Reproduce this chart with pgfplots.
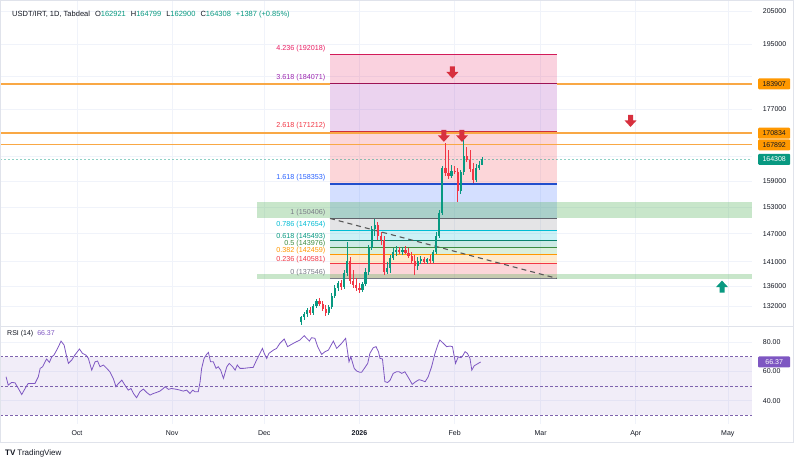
\documentclass[border=0pt]{standalone}
\usepackage{fontspec}
\setmainfont{Liberation Sans}
\usepackage{pgfplots}
\pgfplotsset{compat=1.18}
\definecolor{tvgreen}{HTML}{089981}
\definecolor{tvred}{HTML}{F23645}
\definecolor{tvtext}{HTML}{131722}
\definecolor{gridc}{HTML}{F0F3FA}
\definecolor{framec}{HTML}{E0E3EB}
\definecolor{fibgray}{HTML}{787B86}
\definecolor{fiborange}{HTML}{FF9800}
\definecolor{lvlorange}{HTML}{F9A845}
\definecolor{fibgreen}{HTML}{4CAF50}
\definecolor{fibteal}{HTML}{089981}
\definecolor{fibcyan}{HTML}{00BCD4}
\definecolor{fibblue}{HTML}{2962FF}
\definecolor{fibpurple}{HTML}{9C27B0}
\definecolor{fibpink}{HTML}{E91E63}
\definecolor{rsipurple}{HTML}{7E57C2}
\definecolor{arrowred}{HTML}{D7303E}
\newcommand\tvf{\fontsize{7pt}{8pt}\selectfont}
\newcommand\fibf{\fontsize{7.2pt}{8pt}\selectfont}
\pgfdeclareplotmark{tvdown}{%
 \pgfpathmoveto{\pgfqpoint{-2.5pt}{6pt}}\pgfpathlineto{\pgfqpoint{2.5pt}{6pt}}%
 \pgfpathlineto{\pgfqpoint{2.5pt}{0.5pt}}\pgfpathlineto{\pgfqpoint{6pt}{0.5pt}}%
 \pgfpathlineto{\pgfqpoint{0pt}{-6pt}}\pgfpathlineto{\pgfqpoint{-6pt}{0.5pt}}%
 \pgfpathlineto{\pgfqpoint{-2.5pt}{0.5pt}}\pgfpathclose\pgfusepathqfill}
\pgfdeclareplotmark{tvup}{%
 \pgfpathmoveto{\pgfqpoint{-2.5pt}{-6pt}}\pgfpathlineto{\pgfqpoint{2.5pt}{-6pt}}%
 \pgfpathlineto{\pgfqpoint{2.5pt}{-0.5pt}}\pgfpathlineto{\pgfqpoint{6pt}{-0.5pt}}%
 \pgfpathlineto{\pgfqpoint{0pt}{6pt}}\pgfpathlineto{\pgfqpoint{-6pt}{-0.5pt}}%
 \pgfpathlineto{\pgfqpoint{-2.5pt}{-0.5pt}}\pgfpathclose\pgfusepathqfill}
\begin{document}
\begin{tikzpicture}
\path[use as bounding box, fill=white] (0pt,0pt) rectangle (800pt,465pt);
% main price pane
\begin{axis}[at={(0pt,140pt)}, anchor=south west, scale only axis,
 width=752pt, height=324pt,
 xmin=-25.08, xmax=219.87, ymode=log, ymin=128309, ymax=208098,
 axis line style={draw=none}, tick style={draw=none},
 xtick={0,31,61,92,123,151,182,212}, xticklabels={},
 ytick={132000,136000,141000,147000,153000,159000,165000,171000,177000,186000,195000,205000},
 yticklabels={132000,136000,141000,147000,153000,159000,,,177000,,195000,205000},
 yticklabel pos=right,
 yticklabel style={anchor=west, inner sep=0pt, xshift=10.7pt, font=\tvf, text=tvtext},
 grid=major, major grid style={draw=gridc, line width=0.6pt},
 unbounded coords=jump, clip=true]
% fib bands
\addplot[draw=none, fill=tvred, fill opacity=0.2] coordinates {(82.41,137546)(156.25,137546)(156.25,140581)(82.41,140581)} -- cycle;
\addplot[draw=none, fill=fiborange, fill opacity=0.2] coordinates {(82.41,140581)(156.25,140581)(156.25,142459)(82.41,142459)} -- cycle;
\addplot[draw=none, fill=fibgreen, fill opacity=0.2] coordinates {(82.41,142459)(156.25,142459)(156.25,143976)(82.41,143976)} -- cycle;
\addplot[draw=none, fill=fibteal, fill opacity=0.2] coordinates {(82.41,143976)(156.25,143976)(156.25,145493)(82.41,145493)} -- cycle;
\addplot[draw=none, fill=fibcyan, fill opacity=0.2] coordinates {(82.41,145493)(156.25,145493)(156.25,147654)(82.41,147654)} -- cycle;
\addplot[draw=none, fill=fibgray, fill opacity=0.2] coordinates {(82.41,147654)(156.25,147654)(156.25,150406)(82.41,150406)} -- cycle;
\addplot[draw=none, fill=fibblue, fill opacity=0.2] coordinates {(82.41,150406)(156.25,150406)(156.25,158353)(82.41,158353)} -- cycle;
\addplot[draw=none, fill=tvred, fill opacity=0.2] coordinates {(82.41,158353)(156.25,158353)(156.25,171212)(82.41,171212)} -- cycle;
\addplot[draw=none, fill=fibpurple, fill opacity=0.2] coordinates {(82.41,171212)(156.25,171212)(156.25,184071)(82.41,184071)} -- cycle;
\addplot[draw=none, fill=fibpink, fill opacity=0.2] coordinates {(82.41,184071)(156.25,184071)(156.25,192018)(82.41,192018)} -- cycle;
% green zones
\addplot[draw=none, fill=fibgreen, fill opacity=0.3] coordinates {(58.6,150500)(219.87,150500)(219.87,154160)(58.6,154160)} -- cycle;
\addplot[draw=none, fill=fibgreen, fill opacity=0.3] coordinates {(58.6,137430)(219.87,137430)(219.87,138460)(58.6,138460)} -- cycle;
% fib lines
\addplot[fibgray, line width=1.2pt] coordinates {(82.41,137546)(156.25,137546)};
\addplot[tvred, line width=1.2pt] coordinates {(82.41,140581)(156.25,140581)};
\addplot[fiborange, line width=1.2pt] coordinates {(82.41,142459)(156.25,142459)};
\addplot[fibgreen!80!black, line width=1.2pt] coordinates {(82.41,143976)(156.25,143976)};
\addplot[fibteal!85!black, line width=1.2pt] coordinates {(82.41,145493)(156.25,145493)};
\addplot[fibcyan, line width=1.2pt] coordinates {(82.41,147654)(156.25,147654)};
\addplot[fibgray!80!black, line width=1.2pt] coordinates {(82.41,150406)(156.25,150406)};
\addplot[fibblue!80!black, line width=1.2pt] coordinates {(82.41,158353)(156.25,158353)};
\addplot[tvred!85!black, line width=1.2pt] coordinates {(82.41,171212)(156.25,171212)};
\addplot[fibpurple!60!red!80!black, line width=1.2pt] coordinates {(82.41,184071)(156.25,184071)};
\addplot[fibpink!90!black, line width=1.2pt] coordinates {(82.41,192018)(156.25,192018)};
% horizontal levels
\addplot[lvlorange, line width=1.6pt] coordinates {(-25.08,183907)(82.41,183907)};
\addplot[lvlorange, line width=1.6pt] coordinates {(156.25,183907)(219.87,183907)};
\addplot[lvlorange, line width=1.4pt] coordinates {(-25.08,170834)(219.87,170834)};
\addplot[lvlorange, line width=1.4pt] coordinates {(-25.08,167892)(219.87,167892)};
\addplot[tvgreen, opacity=0.45, line width=0.7pt, dash pattern=on 2pt off 2pt] coordinates {(-25.08,164308)(219.87,164308)};
% fib trend line
\addplot[black!65, line width=1.1pt, dash pattern=on 5pt off 4pt] coordinates {(82.41,150406)(156.25,137546)};
% candle wicks (green)
\addplot[tvgreen, line width=0.8pt] coordinates {
(73,128118)(73,130045)(73,nan) (74,129270)(74,130823)(74,nan) (75,129850)(75,131606)(75,nan)
(77,130239)(77,132395)(77,nan) (78,131606)(78,133386)(78,nan) (82,130239)(82,132197)(82,nan)
(83,131410)(83,134586)(83,nan) (84,133585)(84,136202)(84,nan) (85,134988)(85,137017)(85,nan)
(87,135391)(87,139284)(87,nan) (88,138043)(88,145226)(88,nan) (93,134787)(93,136813)(93,nan)
(94,135999)(94,139700)(94,nan) (95,138249)(95,144578)(95,nan) (96,143503)(96,148733)(96,nan)
(97,146531)(97,150294)(97,nan) (101,138456)(101,140956)(101,nan) (102,138662)(102,142437)(102,nan)
(103,141378)(103,143932)(103,nan) (104,142224)(104,144362)(104,nan) (106,142437)(106,144147)(106,nan)
(111,139284)(111,142012)(111,nan) (112,140536)(112,142224)(112,nan) (114,140536)(114,141800)(114,nan)
(116,140746)(116,143503)(116,nan) (117,142649)(117,147408)(117,nan) (118,146095)(118,152326)(118,nan)
(119,151194)(119,162676)(119,nan) (122,159789)(122,162919)(122,nan) (125,156015)(125,161708)(125,nan)
(126,160506)(126,169866)(126,nan) (130,158838)(130,163162)(130,nan) (131,161708)(131,163894)(131,nan)
(132,162900)(132,164799)(132,nan)};
% candle bodies (green)
\addplot[tvgreen, line width=2.2pt] coordinates {
(73,128885)(73,129850)(73,nan) (74,129850)(74,130433)(74,nan) (75,130433)(75,131214)(75,nan)
(77,130628)(77,132000)(77,nan) (78,132000)(78,132989)(78,nan) (82,130628)(82,131803)(82,nan)
(83,131803)(83,133985)(83,nan) (84,133985)(84,135594)(84,nan) (85,135594)(85,136609)(85,nan)
(87,135796)(87,138662)(87,nan) (88,138662)(88,141167)(88,nan) (93,135190)(93,136405)(93,nan)
(94,136405)(94,138869)(94,nan) (95,138869)(95,143932)(95,nan) (96,143932)(96,148069)(96,nan)
(97,148069)(97,148955)(97,nan) (101,138869)(101,139700)(101,nan) (102,139700)(102,141800)(102,nan)
(103,141800)(103,143076)(103,nan) (104,143076)(104,143503)(104,nan) (106,143076)(106,143503)(106,nan)
(111,140118)(111,141167)(111,nan) (112,141167)(112,141589)(112,nan) (114,140956)(114,141589)(114,nan)
(116,141167)(116,143076)(116,nan) (117,143076)(117,146531)(117,nan) (118,146531)(118,151646)(118,nan)
(119,151646)(119,162191)(119,nan) (122,160267)(122,161467)(122,nan) (125,156715)(125,161226)(125,nan)
(126,161226)(126,165121)(126,nan) (130,159313)(130,162191)(130,nan) (131,162191)(131,162919)(131,nan)
(132,162921)(132,164308)(132,nan)};
% candle wicks (red)
\addplot[tvred, line width=0.8pt] coordinates {
(76,130239)(76,131803)(76,nan) (79,132000)(79,133585)(79,nan) (80,131019)(80,132989)(80,nan)
(81,130045)(81,132197)(81,nan) (86,135190)(86,137222)(86,nan) (89,136405)(89,142012)(89,nan)
(90,135594)(90,139284)(90,nan) (91,134988)(91,137632)(91,nan) (92,134586)(92,136609)(92,nan)
(98,145660)(98,149623)(98,nan) (99,144578)(99,147408)(99,nan) (100,138249)(100,146531)(100,nan)
(105,142649)(105,144147)(105,nan) (107,142649)(107,144362)(107,nan) (108,141800)(108,143932)(108,nan)
(109,140536)(109,143076)(109,nan) (110,138249)(110,142437)(110,nan) (113,140536)(113,142012)(113,nan)
(115,140746)(115,142437)(115,nan) (120,160267)(120,168353)(120,nan) (121,159551)(121,166605)(121,nan)
(123,160746)(123,162676)(123,nan) (124,154160)(124,162191)(124,nan) (127,163650)(127,167352)(127,nan)
(128,161226)(128,166605)(128,nan) (129,158601)(129,163406)(129,nan)};
% candle bodies (red)
\addplot[tvred, line width=2.2pt] coordinates {
(76,131214)(76,130628)(76,nan) (79,132989)(79,132395)(79,nan) (80,132395)(80,131410)(80,nan)
(81,131410)(81,130628)(81,nan) (86,136609)(86,135796)(86,nan) (89,141167)(89,137017)(89,nan)
(90,137017)(90,136202)(90,nan) (91,136202)(91,135594)(91,nan) (92,135594)(92,135190)(92,nan)
(98,148955)(98,146531)(98,nan) (99,146531)(99,145660)(99,nan) (100,145660)(100,138869)(100,nan)
(105,143503)(105,143076)(105,nan) (107,143503)(107,142862)(107,nan) (108,142862)(108,142224)(108,nan)
(109,142224)(109,141167)(109,nan) (110,141167)(110,140118)(110,nan) (113,141589)(113,140956)(113,nan)
(115,141589)(115,141167)(115,nan) (120,162191)(120,160986)(120,nan) (121,160986)(121,160267)(121,nan)
(123,161467)(123,161226)(123,nan) (124,161226)(124,156715)(124,nan) (127,165121)(127,164139)(127,nan)
(128,164139)(128,161949)(128,nan) (129,161949)(129,159313)(129,nan)};
% arrows
\addplot[only marks, mark=tvdown, color=arrowred] coordinates {(122.3,187030)(119.5,170127)(125.4,170127)(180.3,173978)};
\addplot[only marks, mark=tvup, color=tvgreen] coordinates {(210.1,135857)};
% fib labels
\node[anchor=base east, yshift=4pt, inner sep=0pt, font=\fibf, text=fibpink] at (axis cs:80.94,192018) {4.236 (192018)};
\node[anchor=base east, yshift=4pt, inner sep=0pt, font=\fibf, text=fibpurple] at (axis cs:80.94,184071) {3.618 (184071)};
\node[anchor=base east, yshift=4pt, inner sep=0pt, font=\fibf, text=tvred] at (axis cs:80.94,171212) {2.618 (171212)};
\node[anchor=base east, yshift=4pt, inner sep=0pt, font=\fibf, text=fibblue] at (axis cs:80.94,158353) {1.618 (158353)};
\node[anchor=base east, yshift=4pt, inner sep=0pt, font=\fibf, text=fibgray] at (axis cs:80.94,150406) {1 (150406)};
\node[anchor=base east, yshift=4pt, inner sep=0pt, font=\fibf, text=fibcyan] at (axis cs:80.94,147654) {0.786 (147654)};
\node[anchor=base east, yshift=2.5pt, inner sep=0pt, font=\fibf, text=fibteal] at (axis cs:80.94,145493) {0.618 (145493)};
\node[anchor=base east, yshift=2.5pt, inner sep=0pt, font=\fibf, text=fibgreen!80!black] at (axis cs:80.94,143976) {0.5 (143976)};
\node[anchor=base east, yshift=2.5pt, inner sep=0pt, font=\fibf, text=fiborange] at (axis cs:80.94,142459) {0.382 (142459)};
\node[anchor=base east, yshift=2.5pt, inner sep=0pt, font=\fibf, text=tvred] at (axis cs:80.94,140581) {0.236 (140581)};
\node[anchor=base east, yshift=4pt, inner sep=0pt, font=\fibf, text=fibgray] at (axis cs:80.94,137546) {0 (137546)};
\coordinate (b1) at (axis cs:219.87,183907);
\coordinate (b2) at (axis cs:219.87,170834);
\coordinate (b3) at (axis cs:219.87,167892);
\coordinate (b4) at (axis cs:219.87,164308);
\end{axis}
% RSI pane
\begin{axis}[at={(0pt,41pt)}, anchor=south west, scale only axis,
 width=752pt, height=97pt,
 xmin=-25.08, xmax=219.87, ymin=24.1, ymax=90.2,
 axis line style={draw=none}, tick style={draw=none},
 xtick={0,31,61,92,123,151,182,212},
 xticklabels={Oct,Nov,Dec,\textbf{2026},Feb,Mar,Apr,May},
 xticklabel style={font=\tvf, text=tvtext, yshift=-3pt},
 ytick={40,60,80}, yticklabels={40.00,60.00,80.00},
 yticklabel pos=right,
 yticklabel style={anchor=west, inner sep=0pt, xshift=10.7pt, font=\tvf, text=tvtext},
 grid=major, major grid style={draw=gridc, line width=0.6pt}, clip=true]
\addplot[draw=none, fill=rsipurple, fill opacity=0.1] coordinates {(-25.08,30)(219.87,30)(219.87,70)(-25.08,70)} -- cycle;
\addplot[rsipurple!70!gray, line width=0.6pt, dash pattern=on 2.5pt off 2.5pt] coordinates {(-25.08,70)(219.87,70)};
\addplot[rsipurple!70!gray, line width=0.6pt, dash pattern=on 2.5pt off 2.5pt] coordinates {(-25.08,50)(219.87,50)};
\addplot[rsipurple!70!gray, line width=0.6pt, dash pattern=on 2.5pt off 2.5pt] coordinates {(-25.08,30)(219.87,30)};
\addplot[rsipurple, line width=0.8pt] coordinates {
(-23.1,56.3) (-22.4,50.6) (-21.3,52.4) (-20.2,52.2) (-19.1,48.3) (-18.0,44.2) (-16.9,48.3) (-15.9,51.7)
(-13.7,51.7) (-12.6,56.3) (-12.0,62.0) (-11.2,63.1) (-10.4,66.5) (-9.9,68.4) (-9.0,66.1) (-8.2,69.9)
(-7.5,71.1) (-6.6,74.5) (-5.8,77.9) (-5.2,80.6) (-4.2,77.9) (-3.6,72.2) (-2.8,65.4) (-1.7,67.7)
(-0.7,71.1) (0.8,75.2) (1.8,72.2) (2.9,71.1) (3.7,68.8) (4.8,60.8) (5.9,66.5) (6.7,67.0) (7.5,63.1)
(8.6,64.3) (9.7,62.0) (10.7,59.7) (11.8,55.2) (12.7,49.5) (13.5,51.7) (14.6,54.0) (15.6,50.6)
(16.7,47.2) (17.6,48.3) (18.4,44.9) (19.4,42.0) (20.5,46.1) (21.6,47.9) (22.7,45.6) (23.8,43.8)
(24.9,44.9) (25.9,45.6) (27.0,46.5) (28.1,48.3) (28.7,49.5) (29.8,47.7) (30.8,48.3) (32.5,47.7)
(33.5,47.2) (34.6,46.5) (35.7,47.2) (36.8,44.9) (37.7,47.2) (38.4,46.1) (39.5,46.1) (40.1,52.9)
(40.6,62.0) (41.4,68.8) (42.2,71.5) (42.8,72.9) (43.5,66.5) (44.4,66.5) (45.3,62.0) (46.0,63.1)
(46.8,60.8) (47.7,55.2) (48.8,63.1) (49.6,65.4) (50.7,63.1) (51.5,60.8) (52.2,64.3) (53.1,62.0)
(54.2,62.0) (55.8,62.4) (57.4,62.7) (58.5,67.7) (59.6,72.2) (60.4,75.6) (61.0,72.2) (61.8,68.8)
(62.5,72.2) (64.0,74.5) (65.0,75.6) (66.1,79.1) (67.5,82.0) (68.6,76.8) (69.9,78.4) (71.5,80.2)
(72.6,81.3) (74.0,84.3) (74.8,82.5) (75.7,80.6) (76.4,82.9) (77.5,82.5) (78.4,76.8) (79.7,71.5)
(80.8,73.4) (81.9,74.5) (83.5,80.6) (84.6,75.6) (86.2,79.1) (87.5,82.5) (88.6,66.5) (89.2,69.9)
(90.3,62.0) (91.1,60.2) (92.2,59.3) (92.7,59.3) (93.6,62.0) (94.7,65.4) (95.4,72.2) (96.5,76.1)
(97.4,76.8) (98.2,73.4) (98.7,68.8) (99.5,68.4) (100.3,52.9) (101.2,52.4) (102.0,54.0) (103.0,58.6)
(104.1,59.7) (104.9,59.7) (105.8,58.6) (106.8,59.7) (108.1,55.2) (109.2,51.1) (110.3,52.9)
(111.4,54.3) (112.3,53.8) (113.4,52.9) (114.4,56.3) (115.5,63.1) (116.6,72.2) (117.7,79.1)
(118.2,81.3) (119.3,79.1) (120.4,76.8) (121.5,77.2) (122.3,76.8) (123.3,65.4) (124.2,69.9)
(125.1,69.3) (125.8,71.1) (126.4,73.4) (127.2,72.2) (128.0,68.8) (128.6,60.8) (129.4,63.8)
(130.7,65.4) (131.5,66.37)};
\coordinate (b5) at (axis cs:219.87,66.37);
\end{axis}
% frame
\draw[framec, line width=0.7pt] (0.5pt,23pt) rectangle (793pt,464.5pt);
\draw[framec, line width=0.7pt] (0.5pt,139pt) -- (793pt,139pt);
% price boxes
\tikzset{pbox/.style={anchor=west, xshift=6pt, minimum width=32pt, minimum height=11pt, inner sep=0pt, font=\tvf, rounded corners=1pt}}
\node[pbox, fill=fiborange, text=tvtext] at (b1) {183907};
\node[pbox, fill=fiborange, text=tvtext] at (b2) {170834};
\node[pbox, fill=fiborange, text=tvtext] at (b3) {167892};
\node[pbox, fill=tvgreen, text=white] at (b4) {164308};
\node[pbox, fill=rsipurple, text=white] at (b5) {66.37};
% header texts
\node[anchor=west, inner sep=0pt, text=tvtext, font=\fontsize{7.5pt}{9pt}\selectfont] at (12pt,450pt)
 {USDT/IRT, 1D, Tabdeal\hspace{5pt}O\textcolor{tvgreen}{162921}\hspace{5pt}H\textcolor{tvgreen}{164799}\hspace{5pt}L\textcolor{tvgreen}{162900}\hspace{5pt}C\textcolor{tvgreen}{164308}\hspace{5pt}\textcolor{tvgreen}{+1387 (+0.85\%)}};
\node[anchor=west, inner sep=0pt, text=tvtext, font=\tvf] at (7pt,131pt) {RSI (14)\hspace{4pt}\textcolor{rsipurple}{66.37}};
\node[anchor=west, inner sep=0pt, text=tvtext, font=\fontsize{8pt}{9pt}\selectfont] at (5pt,12pt) {\textbf{TV}\hspace{2pt}TradingView};
\end{tikzpicture}
\end{document}
